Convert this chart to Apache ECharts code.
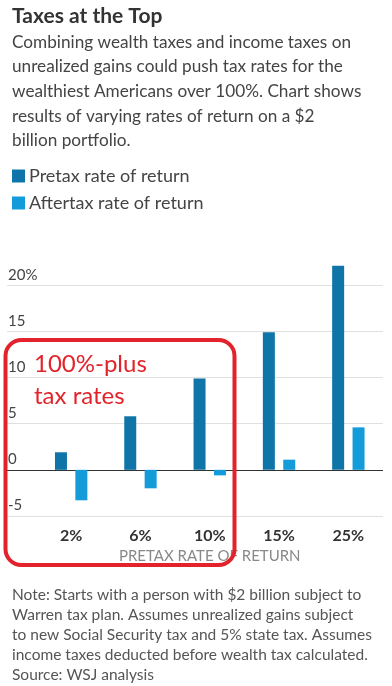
<!DOCTYPE html>
<html>
<head>
<meta charset="utf-8">
<script src="https://cdn.jsdelivr.net/npm/echarts@6/dist/echarts.min.js"></script>
<style>
html,body{margin:0;padding:0;background:#fff;}
#chart{width:392px;height:686px;}
</style>
</head>
<body>
<div id="chart"></div>
<script>
const categories = ['2%', '6%', '10%', '15%', '25%'];
const pretax = [1.9, 5.8, 9.9, 14.9, 22.1];
const aftertax = [-3.3, -2.0, -0.6, 1.1, 4.6];
const yTicks = [-5, 0, 5, 10, 15, 20];
const seriesNames = ['Pretax rate of return', 'Aftertax rate of return'];
const titleText = 'Taxes at the Top';
const subtitleLines = [
  'Combining wealth taxes and income taxes on',
  'unrealized gains could push tax rates for the',
  'wealthiest Americans over 100%. Chart shows',
  'results of varying rates of return on a $2',
  'billion portfolio.'
];
const noteLines = [
  'Note: Starts with a person with $2 billion subject to',
  'Warren tax plan. Assumes unrealized gains subject',
  'to new Social Security tax and 5% state tax. Assumes',
  'income taxes deducted before wealth tax calculated.',
  'Source: WSJ analysis'
];
const annotationLines = ['100%-plus', 'tax rates'];
const xAxisTitle = 'PRETAX RATE OF RETURN';

const FONT = 'Lato, "Open Sans", sans-serif';
const C_PRE = '#0f74a8';
const C_AFT = '#149bd9';
const RED = '#e3232b';

const yMin = -5, yMax = 25, yInt = 5;
const gridTop = 470 - 25 * 9.24;
const gridBottom = 686 - 516;

const chart = echarts.init(document.getElementById('chart'), null, {renderer: 'canvas'});
const splitColors = [-5, 0, 5, 10, 15, 20, 25].map(v => v === 0 ? '#333333' : (v > 20 ? 'rgba(0,0,0,0)' : '#e0e0e0'));

chart.setOption({
  backgroundColor: '#ffffff',
  animation: false,
  title: [
    {text: titleText, left: 7, top: 1,
     textStyle: {fontFamily: FONT, fontSize: 21, fontWeight: 'bold', color: '#333333'}},
    {text: subtitleLines.join('\n'), left: 7, top: 25,
     textStyle: {fontFamily: FONT, fontSize: 17.2, fontWeight: 'normal', color: '#444444', lineHeight: 24.6}},
    {text: noteLines.join('\n'), left: 7, top: 580,
     textStyle: {fontFamily: FONT, fontSize: 15.5, fontWeight: 'normal', color: '#555555', lineHeight: 20}}
  ],
  legend: {
    left: 7, top: 162, orient: 'vertical', itemGap: 9,
    itemWidth: 13, itemHeight: 13, icon: 'rect',
    data: seriesNames,
    textStyle: {fontFamily: FONT, fontSize: 18, color: '#444444', padding: [0, 0, 0, -1]}
  },
  grid: [
    {left: 7, right: 9, top: gridTop, bottom: gridBottom},
    {left: 36.5, right: 9, top: gridTop, bottom: gridBottom}
  ],
  xAxis: [
    {gridIndex: 0, type: 'category', data: categories, show: false},
    {gridIndex: 1, type: 'category', data: categories,
     axisLine: {show: false}, axisTick: {show: false},
     axisLabel: {fontFamily: FONT, fontSize: 16, fontWeight: 'bold', color: '#333333', margin: 12},
     name: xAxisTitle, nameLocation: 'middle', nameGap: 33,
     nameTextStyle: {fontFamily: FONT, fontSize: 15, color: '#888888'}}
  ],
  yAxis: [
    {gridIndex: 0, type: 'value', min: yMin, max: yMax, interval: yInt,
     axisLine: {show: false}, axisTick: {show: false},
     splitLine: {show: true, lineStyle: {color: splitColors, width: 1}},
     axisLabel: {inside: true, margin: 1, verticalAlign: 'bottom', padding: [0, 0, 3, 0],
       fontFamily: FONT, fontSize: 15, color: '#444444',
       formatter: v => (yTicks.indexOf(v) < 0 ? '' : (v === 20 ? v + '%' : String(v)))}},
    {gridIndex: 1, type: 'value', min: yMin, max: yMax, interval: yInt, show: false,
     splitLine: {show: false}}
  ],
  series: [
    {name: seriesNames[0], type: 'bar', xAxisIndex: 1, yAxisIndex: 1, data: pretax,
     barWidth: 12, barGap: '70%', itemStyle: {color: C_PRE}},
    {name: seriesNames[1], type: 'bar', xAxisIndex: 1, yAxisIndex: 1, data: aftertax,
     barWidth: 12, barGap: '70%', itemStyle: {color: C_AFT}}
  ],
  graphic: [
    {type: 'rect', z: 100, silent: true,
     shape: {x: 5.5, y: 340, width: 229, height: 225, r: 16},
     style: {fill: 'none', stroke: RED, lineWidth: 4}},
    {type: 'text', z: 101, left: 34, top: 348,
     style: {text: annotationLines.join('\n'), fill: RED, font: '24px ' + FONT, lineHeight: 32}}
  ]
});
</script>
</body>
</html>
